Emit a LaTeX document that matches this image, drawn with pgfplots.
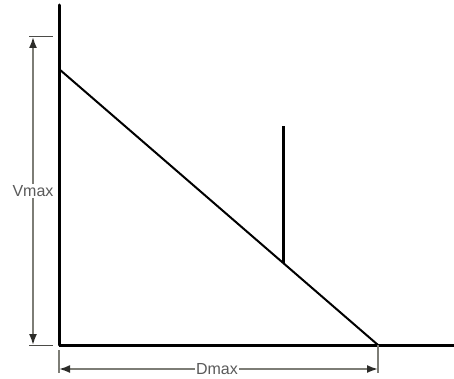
\documentclass[border=0pt]{standalone}
\usepackage{pgfplots}
\pgfplotsset{compat=1.18}
\usepackage{fontspec}
\setmainfont{Liberation Sans}
\usetikzlibrary{arrows.meta}
\definecolor{dimgray}{RGB}{125,125,118}
\definecolor{txtgray}{RGB}{90,90,90}
\begin{document}
\begin{tikzpicture}
\begin{axis}[
  width=454pt, height=378pt, scale only axis,
  xmin=0, xmax=454, ymin=0, ymax=378,
  hide axis, clip=false,
]
% axes
\addplot[black, line width=3pt, line cap=round] coordinates {(59,373) (59,33)};
\addplot[black, line width=3pt] coordinates {(59,33) (454,33)};
% diagonal
\addplot[black, line width=2pt] coordinates {(59,309) (378,33)};
% vertical
\addplot[black, line width=3pt] coordinates {(283,252) (283,115)};
% Vmax dimension
\addplot[dimgray!60!black, line width=1pt] coordinates {(29,341) (53,341)};
\addplot[dimgray!60!black, line width=1pt] coordinates {(29,33) (53,33)};
\addplot[dimgray, line width=1.8pt, {Latex[length=11pt,width=8pt,color=dimgray!35!black]}-{Latex[length=11pt,width=8pt,color=dimgray!35!black]}] coordinates {(33,341) (33,33)};
% Dmax dimension
\addplot[dimgray, line width=1.8pt] coordinates {(59,28) (59,5)};
\addplot[dimgray, line width=1.8pt] coordinates {(378,33) (378,5)};
\addplot[dimgray, line width=1.8pt, {Latex[length=11pt,width=8pt,color=dimgray!35!black]}-{Latex[length=11pt,width=8pt,color=dimgray!35!black]}] coordinates {(59,9) (378,9)};
\node[fill=white, inner sep=1pt, text=txtgray, font=\fontsize{16}{18}\selectfont] at (axis cs:33,187) {Vmax};
\node[fill=white, inner sep=1pt, text=txtgray, font=\fontsize{16}{18}\selectfont] at (axis cs:217,9) {Dmax};
\end{axis}
\pgfresetboundingbox
\path[use as bounding box] (current axis.south west) rectangle (current axis.north east);
\end{tikzpicture}
\end{document}
